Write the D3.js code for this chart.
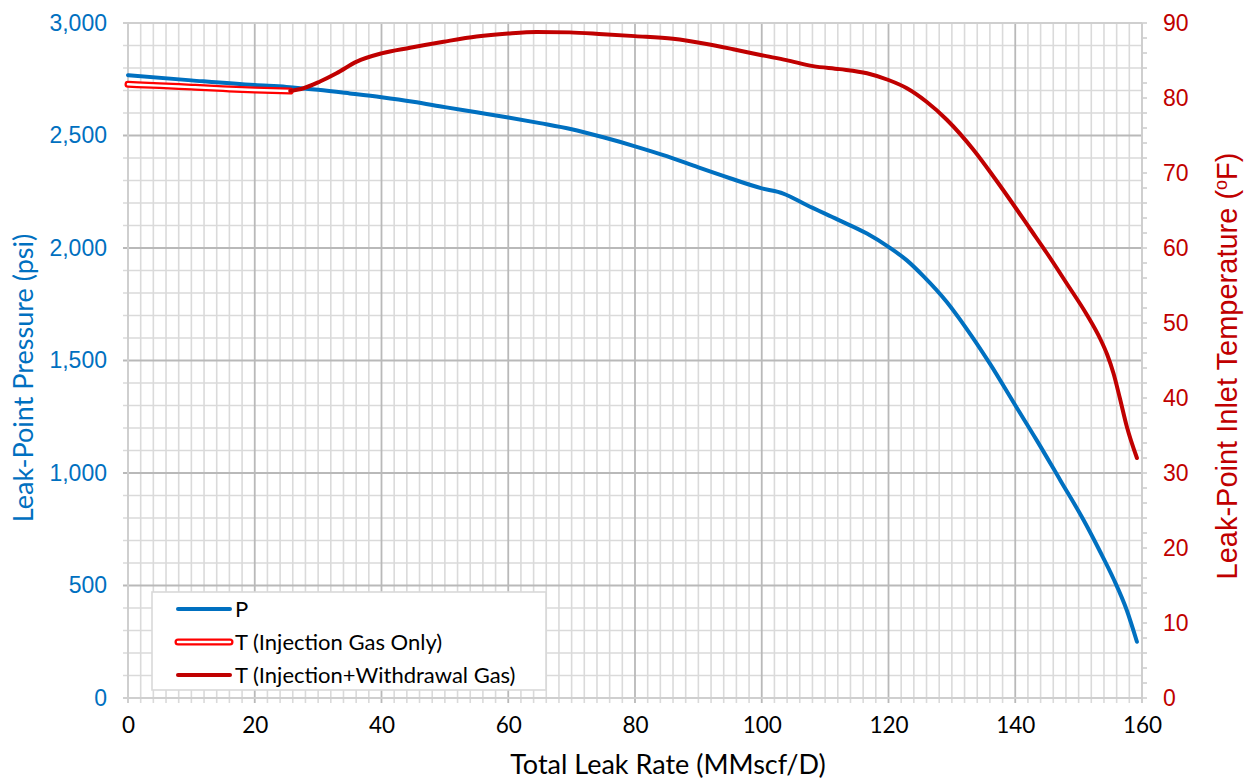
<!DOCTYPE html>
<html>
<head>
<meta charset="utf-8">
<script src="https://cdn.jsdelivr.net/npm/d3@7"></script>
<style>
  html, body { margin: 0; padding: 0; background: #fff; }
  svg { display: block; }
</style>
</head>
<body>
<svg id="chart" width="1254" height="783"></svg>
<script>
// Leak-point pressure vs total leak rate
const rateP = [0, 10, 20, 25, 30, 35, 40, 45, 50, 55, 60, 65, 70, 75, 80, 85, 90, 95, 100, 103.4, 107, 112, 116.6, 120, 122.9, 125.5, 129.2, 132.3, 136, 140, 143.4, 147.1, 150.8, 153.4, 155.5, 157.6, 159.2];
const pressure = [2768, 2745, 2724, 2716, 2703, 2687, 2670, 2650, 2626, 2603, 2580, 2555, 2528, 2492, 2452, 2408, 2358, 2310, 2265, 2242, 2192, 2126, 2064, 2005, 1945, 1875, 1760, 1642, 1486, 1301, 1145, 968, 790, 650, 530, 390, 250];

// Inlet temperature, injection gas only
const rateTInj = [0, 5, 10, 15, 20, 25.6];
const tempInj = [81.83, 81.65, 81.45, 81.25, 81.07, 80.92];

// Inlet temperature, injection + withdrawal gas
const rateTMix = [25.6, 27.7, 30.3, 32.9, 36.1, 40, 44.5, 49.8, 55, 60, 64.5, 69.7, 75, 80, 86, 91.3, 95.5, 100, 103.9, 108.1, 112.3, 116.6, 120, 122.9, 126, 129.2, 133.4, 136.5, 139.2, 142.3, 145, 148.1, 151.3, 153.4, 154.5, 155.5, 156.5, 157.6, 159.2];
const tempMix = [80.95, 81.3, 82.2, 83.3, 84.85, 85.95, 86.7, 87.5, 88.2, 88.6, 88.8, 88.75, 88.5, 88.25, 87.9, 87.2, 86.5, 85.7, 85.05, 84.25, 83.85, 83.3, 82.4, 81.3, 79.5, 77.1, 73.1, 69.6, 66.4, 62.6, 59.3, 55.3, 51.1, 47.9, 45.8, 43.3, 40.0, 36.2, 32.0];

// Axis tick values
const xTicks = [0, 20, 40, 60, 80, 100, 120, 140, 160];
const pTicks = [0, 500, 1000, 1500, 2000, 2500, 3000];
const tTicks = [0, 10, 20, 30, 40, 50, 60, 70, 80, 90];

const legendLabels = ["P", "T (Injection Gas Only)", "T (Injection+Withdrawal Gas)"];

const BLUE = "#0070C0", DARKRED = "#C00000", RED = "#FF0000";
const CAL = "Lato, 'Open Sans', sans-serif";
const ARIAL = "'Liberation Sans', Arial, sans-serif";

const svg = d3.select("#chart");
const L = 128, R = 1142, T = 23, B = 698;

const x = d3.scaleLinear().domain([0, 160]).range([L, R]);
const yP = d3.scaleLinear().domain([0, 3000]).range([B, T]);
const yT = d3.scaleLinear().domain([0, 90]).range([B, T]);

// Grid: minor lines first, then major lines
const grid = svg.append("g");
const minorX = d3.range(0, 161, 2).filter(v => v % 20 !== 0);
const minorY = d3.range(0, 3001, 100).filter(v => v % 500 !== 0);

grid.selectAll(".vmin").data(minorX).join("line")
  .attr("x1", d => x(d)).attr("x2", d => x(d))
  .attr("y1", T).attr("y2", B + 5)
  .attr("stroke", "#dadada").attr("stroke-width", 1.6);
grid.selectAll(".hmin").data(minorY).join("line")
  .attr("x1", L - 5).attr("x2", R)
  .attr("y1", d => yP(d)).attr("y2", d => yP(d))
  .attr("stroke", "#dadada").attr("stroke-width", 1.6);
grid.selectAll(".vmaj").data(xTicks.slice(1, -1)).join("line")
  .attr("x1", d => x(d)).attr("x2", d => x(d))
  .attr("y1", T).attr("y2", B + 5)
  .attr("stroke", "#b9b9b9").attr("stroke-width", 1.8);
grid.selectAll(".hmaj").data(pTicks.slice(1)).join("line")
  .attr("x1", L - 5).attr("x2", R)
  .attr("y1", d => yP(d)).attr("y2", d => yP(d))
  .attr("stroke", "#b9b9b9").attr("stroke-width", 1.8);

// Right-axis minor tick marks
grid.selectAll(".rtick").data(d3.range(0, 91, 2)).join("line")
  .attr("x1", R).attr("x2", R + 5)
  .attr("y1", d => yT(d)).attr("y2", d => yT(d))
  .attr("stroke", "#cfcfcf").attr("stroke-width", 1.6);

// Axis lines
grid.append("line").attr("x1", L).attr("x2", L).attr("y1", T).attr("y2", B + 5)
  .attr("stroke", "#cfcfcf").attr("stroke-width", 2);
grid.append("line").attr("x1", L - 5).attr("x2", R).attr("y1", B).attr("y2", B)
  .attr("stroke", "#cfcfcf").attr("stroke-width", 2);
grid.append("line").attr("x1", R).attr("x2", R).attr("y1", T).attr("y2", B + 5)
  .attr("stroke", "#cfcfcf").attr("stroke-width", 2);
grid.append("line").attr("x1", L - 5).attr("x2", R).attr("y1", T).attr("y2", T)
  .attr("stroke", "#cfcfcf").attr("stroke-width", 1.8);

// Tick labels via d3 axes
const gx = svg.append("g").attr("transform", `translate(0,${B})`)
  .call(d3.axisBottom(x).tickValues(xTicks).tickSize(0).tickPadding(19).tickFormat(d3.format("d")));
gx.select(".domain").remove();
gx.selectAll("text").attr("font-family", CAL).attr("font-size", 22.5).attr("fill", "#000");

const gl = svg.append("g").attr("transform", `translate(${L},0)`)
  .call(d3.axisLeft(yP).tickValues(pTicks).tickSize(0).tickPadding(21).tickFormat(d3.format(",")));
gl.select(".domain").remove();
gl.selectAll("text").attr("font-family", ARIAL).attr("font-size", 23).attr("fill", BLUE);

const gr = svg.append("g").attr("transform", `translate(${R},0)`)
  .call(d3.axisRight(yT).tickValues(tTicks).tickSize(0).tickPadding(21).tickFormat(d3.format("d")));
gr.select(".domain").remove();
gr.selectAll("text").attr("font-family", ARIAL).attr("font-size", 23).attr("fill", DARKRED);

// Axis titles
svg.append("text").attr("x", 668).attr("y", 774).attr("text-anchor", "middle")
  .attr("font-family", CAL).attr("font-size", 27).attr("fill", "#000")
  .text("Total Leak Rate (MMscf/D)");
svg.append("text").attr("transform", "translate(33,378) rotate(-90)").attr("text-anchor", "middle")
  .attr("font-family", CAL).attr("font-size", 27).attr("fill", BLUE)
  .text("Leak-Point Pressure (psi)");
const rt = svg.append("text").attr("transform", "translate(1237,366) rotate(-90)").attr("text-anchor", "middle")
  .attr("font-family", ARIAL).attr("font-size", 29).attr("fill", DARKRED);
rt.append("tspan").text("Leak-Point Inlet Temperature (");
rt.append("tspan").attr("font-size", 18).attr("dy", -10).text("o");
rt.append("tspan").attr("dy", 10).text("F)");

// Series
const lineP = d3.line().x((d, i) => x(rateP[i])).y(d => yP(d)).curve(d3.curveMonotoneX);
const lineInj = d3.line().x((d, i) => x(rateTInj[i])).y(d => yT(d)).curve(d3.curveMonotoneX);
const lineMix = d3.line().x((d, i) => x(rateTMix[i])).y(d => yT(d)).curve(d3.curveMonotoneX);

const series = svg.append("g").attr("fill", "none").attr("stroke-linecap", "round").attr("stroke-linejoin", "round");
series.append("path").attr("d", lineP(pressure)).attr("stroke", BLUE).attr("stroke-width", 4);
series.append("path").attr("d", lineInj(tempInj)).attr("stroke", RED).attr("stroke-width", 7);
series.append("path").attr("d", lineInj(tempInj)).attr("stroke", "#fff").attr("stroke-width", 2.5);
series.append("path").attr("d", lineMix(tempMix)).attr("stroke", DARKRED).attr("stroke-width", 4);

// Legend
const lg = svg.append("g");
lg.append("rect").attr("x", 152).attr("y", 592).attr("width", 394).attr("height", 98)
  .attr("fill", "#fff").attr("stroke", "#d9d9d9").attr("stroke-width", 1.6);
const rowsY = [609, 642, 675];
const styles = [
  [{ c: BLUE, w: 4 }],
  [{ c: RED, w: 7 }, { c: "#fff", w: 2.5 }],
  [{ c: DARKRED, w: 4 }]
];
legendLabels.forEach((lab, i) => {
  styles[i].forEach(s => {
    lg.append("line").attr("x1", 178).attr("x2", 230).attr("y1", rowsY[i]).attr("y2", rowsY[i])
      .attr("stroke", s.c).attr("stroke-width", s.w).attr("stroke-linecap", "round");
  });
  lg.append("text").attr("x", 235).attr("y", rowsY[i]).attr("dy", "0.36em")
    .attr("font-family", CAL).attr("font-size", 22).attr("fill", "#000").text(lab);
});
</script>
</body>
</html>
